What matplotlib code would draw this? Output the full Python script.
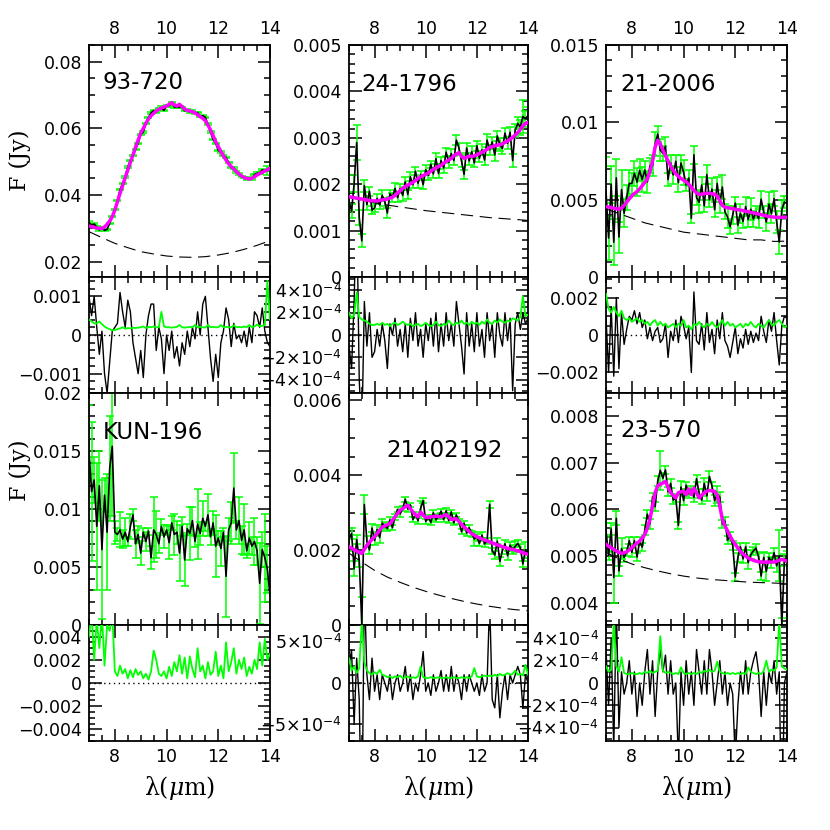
import numpy as np
import matplotlib
matplotlib.use('Agg')
import matplotlib.pyplot as plt
from matplotlib.ticker import MultipleLocator, FixedLocator, FixedFormatter

plt.rcParams['font.family'] = ['DejaVu Sans']
plt.rcParams['mathtext.fontset'] = 'custom'
plt.rcParams['mathtext.rm'] = 'DejaVu Sans'
plt.rcParams['mathtext.it'] = 'DejaVu Serif:italic'
plt.rcParams['mathtext.bf'] = 'DejaVu Sans:bold'

# wavelength grids (micron)
wl = np.round(np.arange(7.0, 14.001, 0.1), 1)
wl_c = np.round(np.arange(7.0, 14.001, 0.5), 1)

names = ["93-720", "24-1796", "21-2006", "KUN-196", "21402192", "23-570"]

# ---------------- 93-720 ----------------
model_1 = [0.0307,0.0305,0.0303,0.0301,0.0300,0.0300,0.0304,0.0312,0.0322,0.0335,
           0.0355,0.0380,0.0405,0.0428,0.0452,0.0475,0.0498,0.0520,0.0543,0.0565,
           0.0585,0.0600,0.0615,0.0628,0.0638,0.0645,0.0652,0.0657,0.0661,0.0664,
           0.0667,0.0672,0.0677,0.0670,0.0667,0.0672,0.0665,0.0658,0.0654,0.0652,
           0.0650,0.0646,0.0641,0.0635,0.0630,0.0623,0.0610,0.0595,0.0578,0.0560,
           0.0545,0.0530,0.0517,0.0505,0.0494,0.0485,0.0478,0.0470,0.0463,0.0457,
           0.0452,0.0450,0.0448,0.0450,0.0455,0.0460,0.0464,0.0468,0.0472,0.0476,0.0480]
resid_1 = [0.0010,0.0005,0.0010,0.0002,-0.0005,0.0001,-0.0010,-0.0015,-0.0007,0.0001,
           0.0002,0.0003,0.0011,0.0006,0.0002,0.0009,0.0006,-0.0002,-0.0006,-0.0010,
           -0.0004,-0.0011,0.0000,0.0005,0.0008,0.0008,-0.0004,0.0002,-0.0001,-0.0010,
           0.0000,-0.0004,0.0001,-0.0006,-0.0003,-0.0008,-0.0002,-0.0005,0.0001,-0.0003,
           0.0002,-0.0001,0.0006,0.0000,0.0008,0.0010,0.0002,-0.0006,-0.0012,-0.0005,
           -0.0011,-0.0002,0.0001,0.0007,0.0004,-0.0003,0.0003,-0.0001,0.0000,-0.0002,
           0.0001,-0.0003,0.0002,-0.0002,0.0006,0.0005,0.0002,0.0007,0.0001,-0.0002,-0.0003]
sigma_1 = [0.0004,0.00035,0.0003,0.0003,0.00035,0.00028,0.00022,0.00018,0.00015,0.00012,
           0.00013,0.00015,0.00017,0.0002,0.00016,0.00018,0.00017,0.00019,0.00018,0.00019,
           0.0002,0.00022,0.00018,0.00021,0.0002,0.00022,0.0002,0.0002,0.0006,0.00022,
           0.0002,0.0002,0.00019,0.0002,0.00021,0.00026,0.0002,0.00019,0.0002,0.00021,
           0.0002,0.00026,0.0002,0.00021,0.0002,0.00019,0.00026,0.0002,0.00021,0.0002,
           0.0002,0.00026,0.0002,0.00021,0.0002,0.0002,0.00025,0.0002,0.00021,0.0002,
           0.00022,0.0002,0.00026,0.0002,0.00022,0.00027,0.00023,0.00024,0.00025,0.0014,0.0004]
cont_1 = [0.0290,0.0272,0.0255,0.0242,0.0230,0.0223,0.0217,0.0214,0.0213,0.0215,
          0.0220,0.0227,0.0237,0.0249,0.0263]

# ---------------- 24-1796 ----------------
model_2 = [0.00173,0.00172,0.00171,0.00170,0.00169,0.00168,0.00167,0.00166,0.00165,0.00164,
           0.00164,0.00164,0.00165,0.00166,0.00167,0.00168,0.00170,0.00172,0.00176,0.00181,
           0.00186,0.00191,0.00195,0.00198,0.00201,0.00204,0.00208,0.00212,0.00216,0.00219,
           0.00221,0.00224,0.00228,0.00232,0.00235,0.00238,0.00241,0.00245,0.00249,0.00252,
           0.00256,0.00261,0.00265,0.00268,0.00260,0.00256,0.00258,0.00260,0.00260,0.00261,
           0.00263,0.00266,0.00269,0.00272,0.00275,0.00279,0.00281,0.00283,0.00284,0.00285,
           0.00287,0.00290,0.00293,0.00297,0.00301,0.00306,0.00311,0.00318,0.00326,0.00331,0.00333]
resid_2 = [-0.0001,-0.0003,0.0003,0.0012,-0.0004,-0.0009,0.0003,-0.0001,0.0002,-0.0002,
           -0.00015,0.00005,-0.0001,0.0001,-0.00005,-0.0003,0.0001,0.0000,0.00015,-0.0001,
           0.00005,-0.00015,0.0001,-0.0002,0.00015,-0.00005,0.0002,-0.0001,0.00005,-0.0002,
           0.0001,-0.00005,0.00015,-0.0001,0.0002,-0.00015,0.0001,-0.0001,0.0002,-0.00005,
           0.0001,-0.0001,0.0003,0.0001,-0.0001,-0.00035,0.0002,-0.0001,0.0001,-0.00015,
           0.0002,-0.0001,0.00005,-0.0002,0.0002,-0.00005,0.0001,-0.0002,0.0002,0.0000,
           -0.0001,0.0002,-0.00005,0.00015,-0.0005,0.0001,0.0002,0.00005,0.0002,0.0001,0.00015]
sigma_2 = [2.0e-4,1.5e-4,1.8e-4,3.8e-4,1.6e-4,1.4e-4,1.3e-4,1.2e-4,1.0e-4,0.9e-4,
           0.9e-4,1.0e-4,0.9e-4,1.1e-4,0.9e-4,1.0e-4,0.8e-4,1.0e-4,1.1e-4,0.9e-4,
           1.0e-4,1.2e-4,1.0e-4,0.9e-4,1.0e-4,0.8e-4,0.9e-4,1.0e-4,0.8e-4,0.9e-4,
           1.1e-4,0.9e-4,0.8e-4,0.9e-4,1.2e-4,0.9e-4,0.8e-4,1.0e-4,0.9e-4,1.3e-4,
           1.0e-4,0.9e-4,1.1e-4,1.0e-4,1.3e-4,1.0e-4,1.1e-4,0.9e-4,1.2e-4,1.0e-4,
           1.1e-4,0.9e-4,1.2e-4,1.0e-4,1.4e-4,1.1e-4,1.0e-4,1.3e-4,1.1e-4,1.4e-4,
           1.2e-4,1.1e-4,1.3e-4,1.2e-4,1.5e-4,1.4e-4,1.3e-4,1.6e-4,3.5e-4,1.7e-4,1.8e-4]
cont_2 = [0.00172,0.00166,0.00160,0.00155,0.00151,0.00147,0.00143,0.00140,0.00137,0.00134,
          0.00131,0.00128,0.00126,0.00124,0.00122]

# ---------------- 21-2006 ----------------
model_3 = [0.00455,0.00452,0.00449,0.00445,0.00441,0.00438,0.00445,0.00462,0.00485,0.00505,
           0.00525,0.00540,0.00553,0.00570,0.00590,0.00612,0.00635,0.00680,0.00750,0.00840,
           0.00885,0.00860,0.00820,0.00785,0.00750,0.00718,0.00690,0.00668,0.00650,0.00637,
           0.00627,0.00615,0.00600,0.00580,0.00560,0.00545,0.00533,0.00535,0.00540,0.00542,
           0.00540,0.00538,0.00535,0.00525,0.00495,0.00462,0.00452,0.00448,0.00445,0.00441,
           0.00438,0.00435,0.00432,0.00429,0.00425,0.00422,0.00418,0.00415,0.00411,0.00407,
           0.00403,0.00399,0.00395,0.00391,0.00389,0.00387,0.00386,0.00386,0.00385,0.00385,0.00384]
resid_3 = [0.0010,-0.0020,0.0015,-0.0022,0.0020,-0.0018,0.0012,-0.0005,0.0003,0.0010,
           0.0008,0.0013,0.0006,0.0012,0.0004,0.0008,-0.0002,0.0004,-0.0003,0.0002,
           0.0004,-0.0004,-0.0002,0.0006,-0.0012,0.0002,-0.0003,0.0008,-0.0004,0.0010,
           0.0005,-0.0002,0.0004,-0.0020,0.0023,-0.0003,-0.0005,0.0006,-0.0008,0.0012,
           -0.0004,0.0003,-0.0010,0.0008,-0.0002,0.0012,-0.0003,-0.0006,-0.0012,-0.0004,
           0.0004,-0.0010,-0.0002,-0.0007,0.0003,-0.0005,0.0002,-0.0004,0.0001,-0.0003,
           0.0010,0.0002,-0.0004,0.0008,0.0002,0.0012,-0.0003,-0.0016,0.0005,0.0010,0.0009]
sigma_3 = [0.0022,0.0014,0.0012,0.0015,0.0012,0.0010,0.0013,0.0009,0.0008,0.0009,
           0.0007,0.0008,0.0009,0.0007,0.0008,0.0006,0.0007,0.0005,0.0007,0.0008,
           0.0005,0.0007,0.0005,0.0006,0.0004,0.0005,0.0006,0.0004,0.0006,0.0005,
           0.0008,0.0004,0.0005,0.0003,0.0006,0.0005,0.0007,0.0005,0.0004,0.0006,
           0.0005,0.0007,0.0005,0.0004,0.0006,0.0008,0.0005,0.0007,0.0005,0.0006,
           0.0004,0.0005,0.0006,0.0004,0.0006,0.0005,0.0007,0.0005,0.0004,0.0006,
           0.0005,0.0004,0.0006,0.0008,0.0006,0.0005,0.0007,0.0008,0.0006,0.0004,0.0005]
cont_3 = [0.0044,0.0041,0.0038,0.0035,0.0033,0.0031,0.0029,0.0028,0.0027,0.0026,
          0.0025,0.0024,0.0024,0.0023,0.00232]

# ---------------- KUN-196 (no model) ----------------
flux_4 = [0.0150,0.0115,0.0125,0.0085,0.0120,0.0065,0.0112,0.0080,0.0135,0.0154,
          0.0080,0.0078,0.0082,0.0074,0.0080,0.0072,0.0085,0.0095,0.0070,0.0078,
          0.0062,0.0080,0.0072,0.0081,0.0058,0.0082,0.0078,0.0070,0.0085,0.0076,
          0.0082,0.0071,0.0088,0.0078,0.0080,0.0062,0.0085,0.0056,0.0083,0.0079,
          0.0090,0.0072,0.0087,0.0079,0.0092,0.0085,0.0095,0.0076,0.0088,0.0068,
          0.0075,0.0066,0.0080,0.0042,0.0082,0.0088,0.0118,0.0082,0.0090,0.0073,
          0.0082,0.0064,0.0075,0.0068,0.0072,0.0064,0.0036,0.0065,0.0058,0.0048,0.0025]
sigma_4 = [0.0040,0.0060,0.0020,0.0055,0.0030,0.0060,0.0015,0.0050,0.0045,0.0060,
           0.0010,0.0006,0.0015,0.0008,0.0012,0.0004,0.0011,0.0005,0.0012,0.0007,
           0.0010,0.0004,0.0008,0.0003,0.0010,0.0028,0.0020,0.0008,0.0006,0.0010,
           0.0004,0.0014,0.0006,0.0018,0.0010,0.0024,0.0008,0.0022,0.0004,0.0023,
           0.0012,0.0005,0.0030,0.0010,0.0015,0.0004,0.0018,0.0007,0.0010,0.0027,
           0.0006,0.0015,0.0004,0.0035,0.0010,0.0018,0.0030,0.0008,0.0020,0.0012,
           0.0022,0.0006,0.0014,0.0008,0.0020,0.0012,0.0035,0.0015,0.0038,0.0020,0.0025]

# ---------------- 21402192 ----------------
model_5 = [0.00209,0.00205,0.00201,0.00198,0.00194,0.00191,0.00202,0.00213,0.00221,0.00229,
           0.00236,0.00245,0.00254,0.00262,0.00265,0.00268,0.00271,0.00280,0.00289,0.00298,
           0.00307,0.00311,0.00316,0.00320,0.00311,0.00302,0.00295,0.00289,0.00302,0.00294,
           0.00287,0.00288,0.00289,0.00290,0.00291,0.00290,0.00289,0.00292,0.00295,0.00289,
           0.00282,0.00283,0.00284,0.00277,0.00269,0.00262,0.00256,0.00250,0.00244,0.00240,
           0.00236,0.00233,0.00230,0.00227,0.00225,0.00222,0.00219,0.00217,0.00214,0.00212,
           0.00209,0.00207,0.00205,0.00203,0.00202,0.00200,0.00198,0.00196,0.00193,0.00191,0.00189]
resid_5 = [0.0002,0.0004,-0.0005,0.0003,-0.0002,-0.0019,0.0012,0.0001,-0.0002,0.0003,
           -0.0001,0.0001,-0.0002,0.0001,0.0000,-0.0001,0.0001,-0.0002,0.0000,0.0001,
           -0.0001,0.0000,0.0002,-0.0001,0.0001,-0.0002,0.0000,-0.0001,0.0001,0.00038,
           -0.0001,0.0000,-0.00015,0.0001,-0.0001,0.0000,0.00015,-0.0001,0.0001,-0.0001,
           0.0002,-0.0001,0.0001,0.0000,-0.0002,0.0001,-0.0001,0.0001,0.0000,-0.0001,
           0.0000,-0.00015,0.0001,-0.0001,0.0000,0.0010,-0.0002,-0.0003,0.0001,-0.00042,
           -0.0001,0.0001,-0.0002,0.0001,0.0000,0.0001,0.0002,0.0001,-0.0003,0.0001,0.0000]
sigma_5 = [3.0e-4,1.5e-4,2.0e-4,1.2e-4,1.8e-4,7.5e-4,2.5e-4,1.5e-4,1.2e-4,1.0e-4,
           1.3e-4,1.1e-4,1.6e-4,1.0e-4,0.9e-4,0.7e-4,0.8e-4,0.6e-4,0.8e-4,0.7e-4,
           0.9e-4,0.6e-4,0.7e-4,0.8e-4,0.6e-4,0.7e-4,0.6e-4,0.8e-4,2.0e-4,0.7e-4,
           0.6e-4,0.6e-4,0.7e-4,0.6e-4,0.6e-4,0.7e-4,0.6e-4,0.6e-4,0.7e-4,0.6e-4,
           0.6e-4,0.7e-4,0.6e-4,0.6e-4,0.7e-4,0.6e-4,0.7e-4,0.6e-4,0.8e-4,1.8e-4,
           0.8e-4,0.7e-4,0.8e-4,0.9e-4,0.8e-4,0.9e-4,0.8e-4,1.0e-4,0.8e-4,1.1e-4,
           0.9e-4,1.0e-4,1.2e-4,1.0e-4,1.1e-4,1.5e-4,1.0e-4,1.1e-4,0.9e-4,2.2e-4,1.0e-4]
cont_5 = [0.00192,0.00168,0.00146,0.00128,0.00114,0.00101,0.00090,0.00080,0.00071,0.00063,
          0.00056,0.00050,0.00045,0.00041,0.00038]

# ---------------- 23-570 ----------------
model_6 = [0.00525,0.00521,0.00518,0.00514,0.00511,0.00508,0.00506,0.00507,0.00509,0.00513,
           0.00518,0.00523,0.00528,0.00532,0.00539,0.00546,0.00560,0.00579,0.00607,0.00636,
           0.00651,0.00654,0.00657,0.00660,0.00648,0.00636,0.00630,0.00625,0.00636,0.00638,
           0.00639,0.00632,0.00644,0.00632,0.00646,0.00636,0.00625,0.00630,0.00636,0.00639,
           0.00641,0.00640,0.00639,0.00632,0.00607,0.00579,0.00565,0.00554,0.00543,0.00533,
           0.00525,0.00517,0.00510,0.00504,0.00500,0.00496,0.00493,0.00491,0.00489,0.00488,
           0.00487,0.00487,0.00487,0.00487,0.00487,0.00487,0.00489,0.00491,0.00493,0.00491,0.00489]
resid_6 = [0.0003,-0.0002,0.0004,-0.0006,0.0007,-0.0004,0.0001,-0.0001,0.0000,0.0002,
           -0.0001,0.0001,-0.0003,0.0000,-0.0002,0.0001,0.0003,-0.0001,0.0002,-0.0003,
           0.0001,0.0003,0.0001,0.00025,-0.0001,0.0002,-0.0001,0.0000,-0.0007,0.0001,
           -0.0002,0.0002,-0.0001,0.0001,-0.0002,0.0003,0.0001,-0.0001,0.0002,-0.0001,
           0.0003,0.0001,-0.0002,0.0000,0.0002,-0.0001,0.0001,-0.0002,0.0000,-0.0001,
           -0.0007,-0.0002,0.0001,-0.0001,0.0002,-0.0001,0.0001,0.0002,0.00028,0.0001,
           -0.0003,0.0001,-0.0002,0.0001,0.0000,0.0002,-0.0001,0.0001,-0.0014,0.0000,0.0001]
sigma_6 = [1.5e-4,1.0e-4,1.2e-4,5.5e-4,1.5e-4,1.0e-4,2.3e-4,0.9e-4,0.8e-4,0.8e-4,
           0.9e-4,0.8e-4,0.8e-4,0.9e-4,0.8e-4,1.0e-4,0.9e-4,1.1e-4,0.9e-4,1.0e-4,
           1.1e-4,4.2e-4,1.1e-4,0.9e-4,1.0e-4,0.9e-4,0.8e-4,0.9e-4,0.8e-4,1.4e-4,
           0.9e-4,0.8e-4,0.9e-4,0.8e-4,0.9e-4,0.8e-4,1.0e-4,0.9e-4,1.1e-4,1.0e-4,
           1.2e-4,1.0e-4,1.1e-4,1.9e-4,1.0e-4,0.9e-4,0.8e-4,0.9e-4,0.8e-4,0.9e-4,
           0.8e-4,0.9e-4,0.8e-4,0.9e-4,0.8e-4,1.4e-4,1.0e-4,0.9e-4,0.8e-4,0.9e-4,
           0.8e-4,1.1e-4,2.0e-4,1.0e-4,1.2e-4,1.1e-4,1.4e-4,5.5e-4,1.5e-4,1.3e-4,1.2e-4]
cont_6 = [0.00508,0.00494,0.00483,0.00475,0.00468,0.00462,0.00457,0.00453,0.00450,0.00448,
          0.00446,0.00444,0.00443,0.00442,0.00441]

# axis ranges and tick labels
main_ylim = [(0.0154, 0.085), (0.0, 0.005), (0.0, 0.015),
             (0.0, 0.02), (0.0, 0.0062), (0.00352, 0.0085)]
main_ticks = [[0.02, 0.04, 0.06, 0.08],
              [0, 0.001, 0.002, 0.003, 0.004, 0.005],
              [0, 0.005, 0.01, 0.015],
              [0, 0.005, 0.01, 0.015, 0.02],
              [0, 0.002, 0.004, 0.006],
              [0.004, 0.005, 0.006, 0.007, 0.008]]
main_ticklabels = [["0.02", "0.04", "0.06", "0.08"],
                   ["0", "0.001", "0.002", "0.003", "0.004", "0.005"],
                   ["0", "0.005", "0.01", "0.015"],
                   ["0", "0.005", "0.01", "0.015", "0.02"],
                   ["0", "0.002", "0.004", "0.006"],
                   ["0.004", "0.005", "0.006", "0.007", "0.008"]]
main_minor = [0.005, 0.0002, 0.001, 0.001, 0.0005, 0.0002]

res_ylim = [0.0015, 0.00052, 0.0031, 0.005, 0.0007, 0.00052]
res_ticks = [[-0.001, 0, 0.001],
             [-4e-4, -2e-4, 0, 2e-4, 4e-4],
             [-0.002, 0, 0.002],
             [-0.004, -0.002, 0, 0.002, 0.004],
             [-5e-4, 0, 5e-4],
             [-4e-4, -2e-4, 0, 2e-4, 4e-4]]
res_ticklabels = [["\u22120.001", "0", "0.001"],
                  [r"$-4{\times}10^{-4}$", r"$-2{\times}10^{-4}$", "0",
                   r"$2{\times}10^{-4}$", r"$4{\times}10^{-4}$"],
                  ["\u22120.002", "0", "0.002"],
                  ["\u22120.004", "\u22120.002", "0", "0.002", "0.004"],
                  [r"$-5{\times}10^{-4}$", "0", r"$5{\times}10^{-4}$"],
                  [r"$-4{\times}10^{-4}$", r"$-2{\times}10^{-4}$", "0",
                   r"$2{\times}10^{-4}$", r"$4{\times}10^{-4}$"]]
res_minor = [0.0002, 0.5e-4, 0.0005, 0.0005, 1e-4, 0.5e-4]

models = [model_1, model_2, model_3, None, model_5, model_6]
resids = [resid_1, resid_2, resid_3, None, resid_5, resid_6]
sigmas = [sigma_1, sigma_2, sigma_3, sigma_4, sigma_5, sigma_6]
conts = [cont_1, cont_2, cont_3, None, cont_5, cont_6]
fluxes = [None, None, None, flux_4, None, None]

name_pos = [(0.077, 0.84), (0.07, 0.83), (0.077, 0.83),
            (0.077, 0.83), (0.21, 0.754), (0.077, 0.84)]

GREEN = '#00ff00'
MAGENTA = '#ff00ff'

fig = plt.figure(figsize=(8.3, 8.3), dpi=100)
W, H = 830.0, 830.0
col_x = [(89, 270), (349, 528), (606, 787)]
row_main = [(45, 277), (393, 625)]
row_res = [(277, 393), (625, 741)]

def mk_ax(x0, x1, y0, y1):
    return fig.add_axes([x0 / W, 1 - y1 / H, (x1 - x0) / W, (y1 - y0) / H])

def style(ax, ymin_loc):
    ax.set_xlim(7, 14)
    ax.xaxis.set_major_locator(MultipleLocator(2))
    ax.xaxis.set_minor_locator(MultipleLocator(0.5))
    ax.yaxis.set_minor_locator(MultipleLocator(ymin_loc))
    ax.tick_params(which='both', direction='in', top=True, right=True,
                   labelsize=12.5, width=1.1, pad=5)
    ax.tick_params(which='major', length=9)
    ax.tick_params(which='minor', length=4.5)
    for s in ax.spines.values():
        s.set_linewidth(1.3)

for i in range(6):
    r, c = divmod(i, 3)
    ax = mk_ax(col_x[c][0], col_x[c][1], row_main[r][0], row_main[r][1])
    axr = mk_ax(col_x[c][0], col_x[c][1], row_res[r][0], row_res[r][1])
    sig = np.array(sigmas[i])
    if models[i] is not None:
        mod = np.array(models[i])
        res = np.array(resids[i])
        flux = mod + res
    else:
        flux = np.array(fluxes[i])
    ax.errorbar(wl, flux, yerr=sig, fmt='none', ecolor=GREEN, elinewidth=1.1,
                capsize=3, capthick=1.1, zorder=2)
    ax.plot(wl, flux, color='k', lw=1.2, zorder=3)
    if models[i] is not None:
        ax.plot(wl_c, conts[i], color='k', lw=0.8, dashes=(11, 6), zorder=3)
        ax.plot(wl, mod, color=MAGENTA, lw=2.5, zorder=4)
        axr.plot(wl, res, color='k', lw=1.0, zorder=2)
    axr.plot(wl, sig, color=GREEN, lw=1.3, zorder=3)
    axr.axhline(0, color='k', ls=(0, (1, 2.5)), lw=1.0, zorder=1)

    ax.set_ylim(*main_ylim[i])
    ax.yaxis.set_major_locator(FixedLocator(main_ticks[i]))
    ax.yaxis.set_major_formatter(FixedFormatter(main_ticklabels[i]))
    style(ax, main_minor[i])
    axr.set_ylim(-res_ylim[i], res_ylim[i])
    axr.yaxis.set_major_locator(FixedLocator(res_ticks[i]))
    axr.yaxis.set_major_formatter(FixedFormatter(res_ticklabels[i]))
    style(axr, res_minor[i])

    if r == 0:
        ax.tick_params(labeltop=True, labelbottom=False)
    else:
        ax.tick_params(labelbottom=False)
    if r == 1:
        axr.tick_params(labelbottom=True)
        axr.set_xlabel('\u03bb(' + r'$\mu$' + 'm)', fontsize=17, labelpad=6,
                       family='DejaVu Serif')
    else:
        axr.tick_params(labelbottom=False)

    ax.text(name_pos[i][0], name_pos[i][1], names[i], transform=ax.transAxes,
            fontsize=16.5, ha='left', va='center', zorder=6)

fig.text(20 / W, 1 - 160 / H, 'F (Jy)', rotation=90, fontsize=16,
         ha='center', va='center', family='DejaVu Serif')
fig.text(20 / W, 1 - 470 / H, 'F (Jy)', rotation=90, fontsize=16,
         ha='center', va='center', family='DejaVu Serif')

fig.savefig('out.png', dpi=100)
